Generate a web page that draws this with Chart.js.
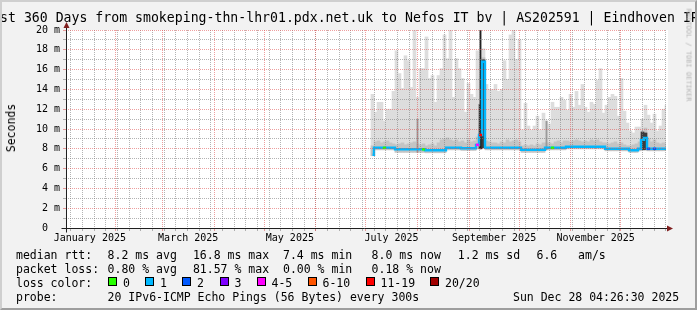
<!DOCTYPE html>
<html>
<head>
<meta charset="utf-8">
<title>SmokePing - Last 360 Days</title>
<script src="https://cdn.jsdelivr.net/npm/chart.js@4/dist/chart.umd.min.js"></script>
<style>
html,body{margin:0;padding:0;background:#f2f2f2;}
#wrap{position:relative;width:697px;height:310px;overflow:hidden;background:#f2f2f2;font-family:'DejaVu Sans Mono',monospace;color:#000;}
#chart{position:absolute;left:0;top:0;}
#frame{position:absolute;left:0;top:0;width:697px;height:310px;box-sizing:border-box;border-style:solid;border-width:2px;border-color:#cfcfcf #9e9e9e #9e9e9e #cfcfcf;pointer-events:none;}
.t{position:absolute;white-space:pre;font-size:11.5px;line-height:12px;}
#title{position:absolute;left:-15.8px;top:11.4px;font-size:13.2px;line-height:13px;white-space:pre;}
#ylab{position:absolute;left:11px;top:127.5px;font-size:11.5px;line-height:12px;white-space:pre;transform:translate(-50%,-50%) rotate(-90deg);}
#wm{position:absolute;left:688px;top:55px;font-size:7px;line-height:7px;color:#b4b4b4;white-space:pre;transform:translate(-50%,-50%) rotate(90deg);}
.box{position:absolute;width:7px;height:7px;border:1px solid #000;top:277px;}
</style>
</head>
<body>
<div id="wrap">
  <canvas id="chart" width="697" height="310"></canvas>
  <div id="title">Last 360 Days from smokeping-thn-lhr01.pdx.net.uk to Nefos IT bv | AS202591 | Eindhoven IPv6</div>
  <div id="ylab">Seconds</div>
  <div id="wm">RRDTOOL / TOBI OETIKER</div>

  <div class="t" style="left:16px;top:249px">median rtt:</div>
  <div class="t" style="left:107.6px;top:249px">8.2 ms avg</div>
  <div class="t" style="left:192.9px;top:249px">16.8 ms max</div>
  <div class="t" style="left:283px;top:249px">7.4 ms min</div>
  <div class="t" style="left:371.6px;top:249px">8.0 ms now</div>
  <div class="t" style="left:457.8px;top:249px">1.2 ms sd</div>
  <div class="t" style="left:536.5px;top:249px">6.6   am/s</div>

  <div class="t" style="left:16px;top:263px">packet loss:</div>
  <div class="t" style="left:107.6px;top:263px">0.80 % avg</div>
  <div class="t" style="left:192.9px;top:263px">81.57 % max</div>
  <div class="t" style="left:283px;top:263px">0.00 % min</div>
  <div class="t" style="left:371.6px;top:263px">0.18 % now</div>

  <div class="t" style="left:16px;top:277px">loss color:</div>
  <div id="lossLegend"></div>

  <div class="t" style="left:16px;top:291px">probe:</div>
  <div class="t" style="left:107.6px;top:291px">20 IPv6-ICMP Echo Pings (56 Bytes) every 300s</div>
  <div class="t" style="left:513px;top:291px">Sun Dec 28 04:26:30 2025</div>
  <div id="frame"></div>
</div>
<script>
// ---------------- data ----------------
const rangeStart = Date.UTC(2025, 0, 2, 4, 26, 30); // 360 days ending Sun Dec 28 04:26:30 2025
const rangeDays = 360;
const dataStart = Date.UTC(2025, 6, 5, 2, 0, 0);     // first consolidated sample
const stepHours = 43.2;                              // spacing between samples

const monthLabels = ['January 2025', 'March 2025', 'May 2025', 'July 2025', 'September 2025', 'November 2025'];
const labelMonths = [0, 2, 4, 6, 8, 10];
const yTickValues = [0,1,2,3,4,5,6,7,8,9,10,11,12,13,14,15,16,17,18,19,20];

const lossNames  = ['0', '1', '2', '3', '4-5', '6-10', '11-19', '20/20'];
const lossColors = ['#26ff00', '#00b8ff', '#0059ff', '#7e00ff', '#ff00ff', '#ff5500', '#ff0000', '#a10000'];
const lossLegendX = [108, 145, 182, 219.5, 256.5, 307.5, 365.5, 430];

// median rtt (ms)
const median = [
  7.4, 8.1, 8.1, 8.1, 8.1, 8.1, 8.1, 8.1, 7.95, 7.95,
  7.95, 7.95, 7.95, 7.95, 7.95, 7.95, 7.95, 7.95, 7.85, 7.85,
  7.85, 7.85, 7.85, 7.85, 7.85, 8.1, 8.1, 8.1, 8.1, 8.1,
  8.05, 8.05, 8.05, 8.05, 8.05, 8.4, 9.4, 16.8, 8.1, 8.1,
  8.1, 8.1, 8.1, 8.1, 8.1, 8.1, 8.1, 8.1, 8.1, 8.1,
  7.9, 7.9, 7.9, 7.9, 7.9, 7.9, 7.9, 7.9, 8.1, 8.1,
  8.1, 8.1, 8.1, 8.1, 8.1, 8.2, 8.2, 8.2, 8.2, 8.2,
  8.2, 8.2, 8.2, 8.2, 8.2, 8.2, 8.2, 8.2, 8.0, 8.0,
  8.0, 8.0, 8.0, 8.0, 8.0, 8.0, 7.85, 7.85, 7.85, 8.0,
  8.9, 9.1, 8.0, 8.0, 8.0, 8.0, 8.0, 8.0, 8.0
];
// loss colour class of each median sample (index into lossColors)
const lossClass = [
  1,1,1,1,0,1,1,1,1,1,
  1,1,1,1,1,1,1,0,1,1,
  1,1,1,1,1,1,1,1,1,1,
  1,1,1,1,1,4,6,1,1,1,
  1,1,1,1,1,1,1,1,1,1,
  1,1,1,1,1,1,1,1,1,1,
  0,1,1,1,1,1,1,1,1,1,
  1,1,1,1,1,1,1,1,1,1,
  1,1,1,1,1,1,1,1,1,1,
  1,1,2,1,2,1,1,1,1
];
// fastest ping of each sample (ms)
const minRtt = [
  7.3, 7.9, 7.9, 7.9, 7.9, 7.9, 7.9, 7.9, 7.65, 7.65,
  7.65, 7.65, 7.65, 7.65, 7.65, 7.65, 7.65, 7.65, 7.6, 7.6,
  7.6, 7.6, 7.6, 7.6, 7.6, 7.9, 7.9, 7.9, 7.9, 7.9,
  7.85, 7.85, 7.85, 7.85, 7.85, 8.0, 8.0, 8.1, 7.9, 7.9,
  7.9, 7.9, 7.9, 7.9, 7.9, 7.9, 7.9, 7.9, 7.9, 7.9,
  7.65, 7.65, 7.65, 7.65, 7.65, 7.65, 7.65, 7.65, 7.9, 7.9,
  7.9, 7.9, 7.9, 7.9, 7.9, 8.0, 8.0, 8.0, 8.0, 8.0,
  8.0, 8.0, 8.0, 8.0, 8.0, 8.0, 8.0, 8.0, 7.8, 7.8,
  7.8, 7.8, 7.8, 7.8, 7.8, 7.8, 7.65, 7.65, 7.65, 7.8,
  7.9, 7.9, 7.8, 7.8, 7.8, 7.8, 7.8, 7.8, 7.8
];
// slowest ping of each sample (ms) - outer smoke
const maxRtt = [
  13.5, 11.7, 12.7, 12.7, 10.8, 12.0, 12.0, 13.8, 17.9, 15.6,
  14.1, 17.4, 16.9, 14.2, 20.0, 13.2, 16.1, 16.1, 19.3, 15.1,
  15.4, 12.7, 15.4, 16.1, 19.5, 17.1, 20.0, 13.2, 17.1, 16.1,
  15.1, 11.7, 14.6, 13.5, 13.2, 17.9, 15.0, 18.1, 14.5, 14.0,
  14.0, 14.5, 13.8, 14.0, 16.9, 15.0, 19.5, 20.0, 17.0, 19.0,
  9.9, 12.6, 10.3, 9.9, 10.3, 11.3, 9.9, 11.6, 10.8, 10.5,
  12.7, 12.2, 12.2, 13.2, 12.9, 11.9, 13.5, 12.2, 13.8, 12.4,
  14.5, 12.2, 11.7, 12.7, 12.5, 14.9, 16.1, 11.6, 12.4, 13.2,
  13.5, 13.3, 11.3, 15.1, 11.8, 10.6, 9.8, 9.6, 10.2, 10.2,
  11.0, 12.4, 11.4, 10.6, 11.5, 9.8, 10.3, 12.0, 12.4
];
// upper edge of the dense part of the smoke (ms)
const innerTop = [
  8.3, 8.7, 8.8, 8.6, 8.7, 8.8, 8.6, 8.5, 8.4, 8.5,
  8.6, 8.4, 8.5, 8.6, 8.7, 8.5, 8.4, 8.5, 8.3, 8.4,
  8.5, 8.3, 8.6, 8.9, 9.0, 9.1, 8.9, 8.8, 8.9, 8.7,
  8.8, 8.6, 8.9, 8.7, 8.8, 9.2, 10.5, 17.2, 8.8, 8.7,
  8.6, 8.6, 8.5, 8.7, 8.6, 8.9, 8.7, 8.8, 8.9, 8.7,
  8.3, 8.4, 8.3, 8.4, 8.3, 8.5, 8.4, 8.6, 8.6, 8.6,
  8.5, 8.7, 8.8, 8.6, 8.8, 8.8, 8.7, 8.8, 8.9, 8.8,
  8.7, 8.8, 8.7, 8.9, 8.8, 8.9, 8.7, 8.6, 8.6, 8.5,
  8.6, 8.7, 8.5, 8.6, 8.4, 8.3, 8.3, 8.4, 8.5, 8.7,
  9.8, 10.1, 9.0, 8.7, 8.9, 8.6, 8.5, 8.6, 8.5
];
// very dense (dark) smoke during events (ms), null = none
const darkTop = [
  null,null,null,null,null,null,null,null,null,null,
  null,null,null,null,null,null,null,null,null,null,
  null,null,null,null,null,null,null,null,null,null,
  null,null,null,null,null,null,12.5,17.0,null,null,
  null,null,null,null,null,null,null,null,null,null,
  null,null,null,null,null,null,null,null,null,null,
  null,null,null,null,null,null,null,null,null,null,
  null,null,null,null,null,null,null,null,null,null,
  null,null,null,null,null,null,null,null,null,null,
  9.7,9.6,null,null,null,null,null,null,null
];
// thin single-sample spikes (ms), null = none
const spikeTop = [
  null,null,null,null,null,null,null,null,null,null,
  null,null,null,null,null,11.0,null,null,null,null,
  null,null,null,null,null,null,null,null,null,null,
  null,null,null,null,null,null,20.0,null,null,null,
  null,null,null,null,null,null,null,null,null,null,
  null,null,null,null,null,null,null,null,10.8,null,
  null,null,null,null,null,null,null,null,null,null,
  null,null,null,null,null,null,null,null,null,null,
  null,null,null,null,null,null,null,null,null,null,
  null,null,null,null,null,null,null,null,null
];

// ---------------- helpers ----------------
const DAY = 86400000;
const toDay = ms => (ms - rangeStart) / DAY;
const xOf = i => toDay(dataStart + i * stepHours * 3600000);

// loss legend boxes
(function(){
  const host = document.getElementById('lossLegend');
  lossNames.forEach((name, k) => {
    const b = document.createElement('div');
    b.className = 'box';
    b.style.left = lossLegendX[k] + 'px';
    b.style.background = lossColors[k];
    host.appendChild(b);
    const t = document.createElement('div');
    t.className = 't';
    t.style.left = (lossLegendX[k] + 15) + 'px';
    t.style.top = '277px';
    t.textContent = name;
    host.appendChild(t);
  });
})();

// x ticks: weekly minor grid, monthly major grid, mid-month labels
const xTickList = [];
for (let d = Date.UTC(2025, 0, 5); toDay(d) < rangeDays; d += 7 * DAY) {
  xTickList.push({value: toDay(d), kind: 'minor', text: ''});
}
for (let m = 1; m < 12; m++) {
  xTickList.push({value: toDay(Date.UTC(2025, m, 1)), kind: 'major', text: ''});
}
labelMonths.forEach((m, k) => {
  const v = (toDay(Date.UTC(2025, m, 1)) + toDay(Date.UTC(2025, m + 1, 1))) / 2;
  xTickList.push({value: v, kind: 'label', text: monthLabels[k]});
});
xTickList.sort((a, b) => a.value - b.value);

const MINOR = 'rgba(128,128,128,0.6)';
const MAJOR = 'rgba(222,79,79,0.55)';
const xGridColor = ctx => {
  const t = xTickList[ctx.index];
  if (!t || t.kind === 'label') return 'rgba(0,0,0,0)';
  return t.kind === 'major' ? MAJOR : MINOR;
};
const yGridColor = ctx => {
  const v = yTickValues[ctx.index];
  if (v === undefined || v === 0) return 'rgba(0,0,0,0)';
  return v % 2 === 0 ? MAJOR : MINOR;
};

// ---------------- datasets ----------------
const outerSmoke = median.map((_, i) => ({x: xOf(i), y: [minRtt[i], maxRtt[i]]}));
const innerSmoke = median.map((_, i) => ({x: xOf(i), y: [minRtt[i], innerTop[i]]}));
const darkSmoke = [];
darkTop.forEach((v, i) => { if (v !== null) darkSmoke.push({x: xOf(i), y: [minRtt[i], v]}); });
const spikes = [];
spikeTop.forEach((v, i) => { if (v !== null) spikes.push({x: xOf(i), y: [minRtt[i], v]}); });
const medianPts = median.map((v, i) => ({x: xOf(i), y: v}));

const rrdPlugin = {
  id: 'rrd',
  beforeDraw(chart) {
    const {ctx, chartArea: a} = chart;
    ctx.save();
    ctx.fillStyle = '#ffffff';
    ctx.fillRect(a.left, a.top, a.right - a.left + 2, a.bottom - a.top);
    ctx.restore();
  },
  afterDraw(chart) {
    const {ctx, chartArea: a} = chart;
    const y0 = Math.round(chart.scales.y.getPixelForValue(0)) + 0.5;
    const x0 = Math.round(chart.scales.x.getPixelForValue(0)) + 0.5;
    ctx.save();
    ctx.strokeStyle = '#1f1f1f';
    ctx.lineWidth = 1;
    ctx.beginPath();
    ctx.moveTo(x0 - 5, y0); ctx.lineTo(a.right + 2, y0);
    ctx.moveTo(x0, y0 + 4); ctx.lineTo(x0, a.top - 3);
    ctx.stroke();
    ctx.fillStyle = '#7f1f1f';
    ctx.beginPath();
    ctx.moveTo(a.right + 7, y0); ctx.lineTo(a.right + 1, y0 - 3); ctx.lineTo(a.right + 1, y0 + 3);
    ctx.closePath(); ctx.fill();
    ctx.beginPath();
    ctx.moveTo(x0, a.top - 8); ctx.lineTo(x0 - 3, a.top - 2); ctx.lineTo(x0 + 3, a.top - 2);
    ctx.closePath(); ctx.fill();
    ctx.restore();
  }
};

const mono = "'DejaVu Sans Mono', monospace";
const BAR_PX = 3; // one consolidated sample is 3 pixels wide (600 px for 360 days)

new Chart(document.getElementById('chart'), {
  type: 'bar',
  data: {
    datasets: [
      {type: 'line', data: medianPts, order: 1, borderColor: '#00b8ff', borderWidth: 2.4,
       stepped: 'middle', pointStyle: 'line',
       pointRadius: ctx => lossClass[ctx.dataIndex] === 1 ? 0 : 1.6,
       pointBorderWidth: 2.5,
       pointBorderColor: ctx => lossColors[lossClass[ctx.dataIndex]],
       pointBackgroundColor: ctx => lossColors[lossClass[ctx.dataIndex]]},
      {data: spikes, order: 2, grouped: false, barThickness: 1.2, borderWidth: 0,
       backgroundColor: ctx => (ctx.raw && ctx.raw.y[1] >= 15) ? '#222222' : '#9a9a9a'},
      {data: darkSmoke, order: 3, grouped: false, barThickness: BAR_PX, borderWidth: 0, backgroundColor: '#3c3c3c'},
      {data: innerSmoke, order: 4, grouped: false, barThickness: BAR_PX, borderWidth: 0, backgroundColor: '#c4c4c4'},
      {data: outerSmoke, order: 5, grouped: false, barThickness: BAR_PX, borderWidth: 0, backgroundColor: '#dddddd'}
    ]
  },
  options: {
    responsive: false, animation: false, devicePixelRatio: 1, events: [],
    layout: {padding: {left: 0, top: 30, right: 31, bottom: 62}},
    plugins: {legend: {display: false}, tooltip: {enabled: false}},
    scales: {
      x: {
        type: 'linear', min: 0, max: rangeDays, offset: false, position: 'bottom',
        afterFit: s => { s.height = 20; },
        afterBuildTicks: s => { s.ticks = xTickList.map(t => ({value: t.value})); },
        ticks: {autoSkip: false, maxRotation: 0, minRotation: 0, padding: 1, color: '#000',
          font: {family: mono, size: 10},
          callback: (v, idx) => xTickList[idx] ? xTickList[idx].text : ''},
        grid: {offset: false, z: 1, lineWidth: 1, color: xGridColor, tickColor: xGridColor, tickLength: 3, drawTicks: true},
        border: {display: false, dash: [1, 1]}
      },
      y: {
        type: 'linear', min: 0, max: 20, position: 'left',
        afterFit: s => { s.width = 66; },
        afterBuildTicks: s => { s.ticks = yTickValues.map(v => ({value: v})); },
        ticks: {autoSkip: false, padding: 3, color: '#000', font: {family: mono, size: 10},
          callback: v => v % 2 !== 0 ? '' : (v === 0 ? '0  ' : v + ' m')},
        grid: {z: 1, lineWidth: 1, color: yGridColor, tickColor: yGridColor, tickLength: 3, drawTicks: true},
        border: {display: false, dash: [1, 1]}
      }
    }
  },
  plugins: [rrdPlugin]
});
</script>
</body>
</html>
